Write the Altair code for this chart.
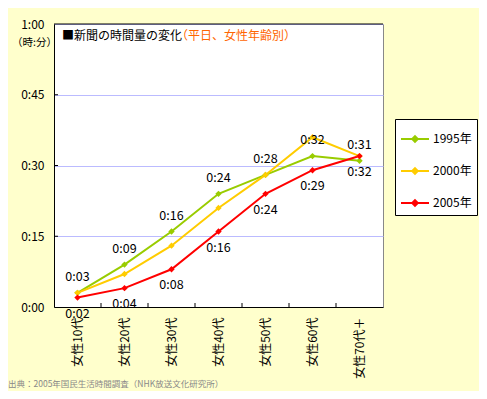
import altair as alt
import pandas as pd

categories = ["女性10代", "女性20代", "女性30代", "女性40代", "女性50代", "女性60代", "女性70代＋"]
years = ["1995年", "2000年", "2005年"]
v1995 = [3, 9, 16, 24, 28, 32, 31]
v2000 = [3, 7, 13, 21, 28, 36, 32]
v2005 = [2, 4, 8, 16, 24, 29, 32]
colors = ["#99CC00", "#FFCC00", "#FF0000"]
y_ticks = [0, 15, 30, 45, 60]
title_main = "■新聞の時間量の変化"
title_sub = "（平日、女性年齢別）"
unit_label = "（時:分）"
source_text = "出典：2005年国民生活時間調査（NHK放送文化研究所）"

FONT = "Noto Sans CJK JP"

rows = []
for yr, vals in zip(years, [v1995, v2000, v2005]):
    for c, v in zip(categories, vals):
        rows.append({"cat": c, "year": yr, "v": v, "label": "0:%02d" % v})
df = pd.DataFrame(rows)

xenc = alt.X("cat:N", scale=alt.Scale(domain=categories), title=None,
             axis=alt.Axis(labelAngle=-90, labelFont=FONT, labelFontSize=12,
                           labelColor="black", ticks=False, labelPadding=10,
                           domainColor="black", domainWidth=1, grid=False))
yscale = alt.Scale(domain=[0, 60], nice=False)
yenc = alt.Y("v:Q", scale=yscale, title=None,
             axis=alt.Axis(values=y_ticks, ticks=False, labelPadding=10,
                           labelFont=FONT, labelFontSize=12, labelColor="black",
                           labelExpr="floor(datum.value/60) + ':' + (datum.value % 60 < 10 ? '0' : '') + (datum.value % 60)",
                           domainColor="black", domainWidth=1,
                           grid=True, gridColor="#BBBBFF", gridWidth=1))
color = alt.Color("year:N", scale=alt.Scale(domain=years, range=colors),
                  legend=alt.Legend(title=None, orient="none", legendX=341, legendY=95,
                                    fillColor="white", strokeColor="black", padding=5,
                                    rowPadding=10, symbolSize=784, symbolStrokeWidth=2,
                                    symbolType="M-1,0H1M0,-0.2L0.2,0L0,0.2L-0.2,0Z",
                                    labelFont=FONT, labelFontSize=12, labelColor="black",
                                    labelOffset=3))

base = alt.Chart(df)
lines = base.mark_line(strokeWidth=2).encode(x=xenc, y=yenc, color=color)
points = base.mark_point(filled=True, shape="diamond", size=40, opacity=1).encode(
    x=alt.X("cat:N", scale=alt.Scale(domain=categories)), y=alt.Y("v:Q", scale=yscale), color=color)

lab_up = base.transform_filter(alt.datum.year == years[0]).mark_text(
    font=FONT, fontSize=12.5, dy=-16, color="black").encode(
    x=alt.X("cat:N", scale=alt.Scale(domain=categories)), y=alt.Y("v:Q", scale=yscale), text="label:N")
lab_dn = base.transform_filter(alt.datum.year == years[2]).mark_text(
    font=FONT, fontSize=12.5, dy=16, color="black").encode(
    x=alt.X("cat:N", scale=alt.Scale(domain=categories)), y=alt.Y("v:Q", scale=yscale), text="label:N")

xticks = alt.Chart(pd.DataFrame({"cat": categories[:-1]})).mark_rule(color="black").encode(
    x=alt.X("cat:N", scale=alt.Scale(domain=categories), bandPosition=1),
    y=alt.value(279), y2=alt.value(283))
yticks = alt.Chart(pd.DataFrame({"v": y_ticks[1:-1]})).mark_rule(color="black").encode(
    y=alt.Y("v:Q", scale=yscale), x=alt.value(0), x2=alt.value(4))
top_rule = alt.Chart(alt.Data(values=[{}])).mark_rule(color="black").encode(
    x=alt.value(0), x2=alt.value(329), y=alt.value(0))

one = alt.Data(values=[{}])
t_main = alt.Chart(one).mark_text(font=FONT, fontSize=12, align="left", baseline="middle",
                                  color="black").encode(
    x=alt.value(8), y=alt.value(12), text=alt.value(title_main))
t_sub = alt.Chart(one).mark_text(font=FONT, fontSize=12, align="left", baseline="middle",
                                 color="#FF6600").encode(
    x=alt.value(122), y=alt.value(12), text=alt.value(title_sub))
t_unit = alt.Chart(one).mark_text(font=FONT, fontSize=10.5, align="right", baseline="middle",
                                  color="black").encode(
    x=alt.value(3), y=alt.value(19), text=alt.value(unit_label))
t_src = alt.Chart(one).mark_text(font=FONT, fontSize=8.5, align="left", baseline="middle",
                                 color="#888888").encode(
    x=alt.value(-46), y=alt.value(360), text=alt.value(source_text))

chart = alt.layer(lines, points, lab_up, lab_dn, xticks, yticks, top_rule,
                  t_main, t_sub, t_unit, t_src).properties(
    width=329, height=283,
    padding={"left": 46, "top": 16, "right": 96, "bottom": 84},
    autosize=alt.AutoSizeParams(type="none"),
    background="#FFFFCC",
).configure_view(fill="white", stroke="#888888", strokeWidth=1)

chart.save("out.html", embed_options={"renderer": "svg", "actions": False})
